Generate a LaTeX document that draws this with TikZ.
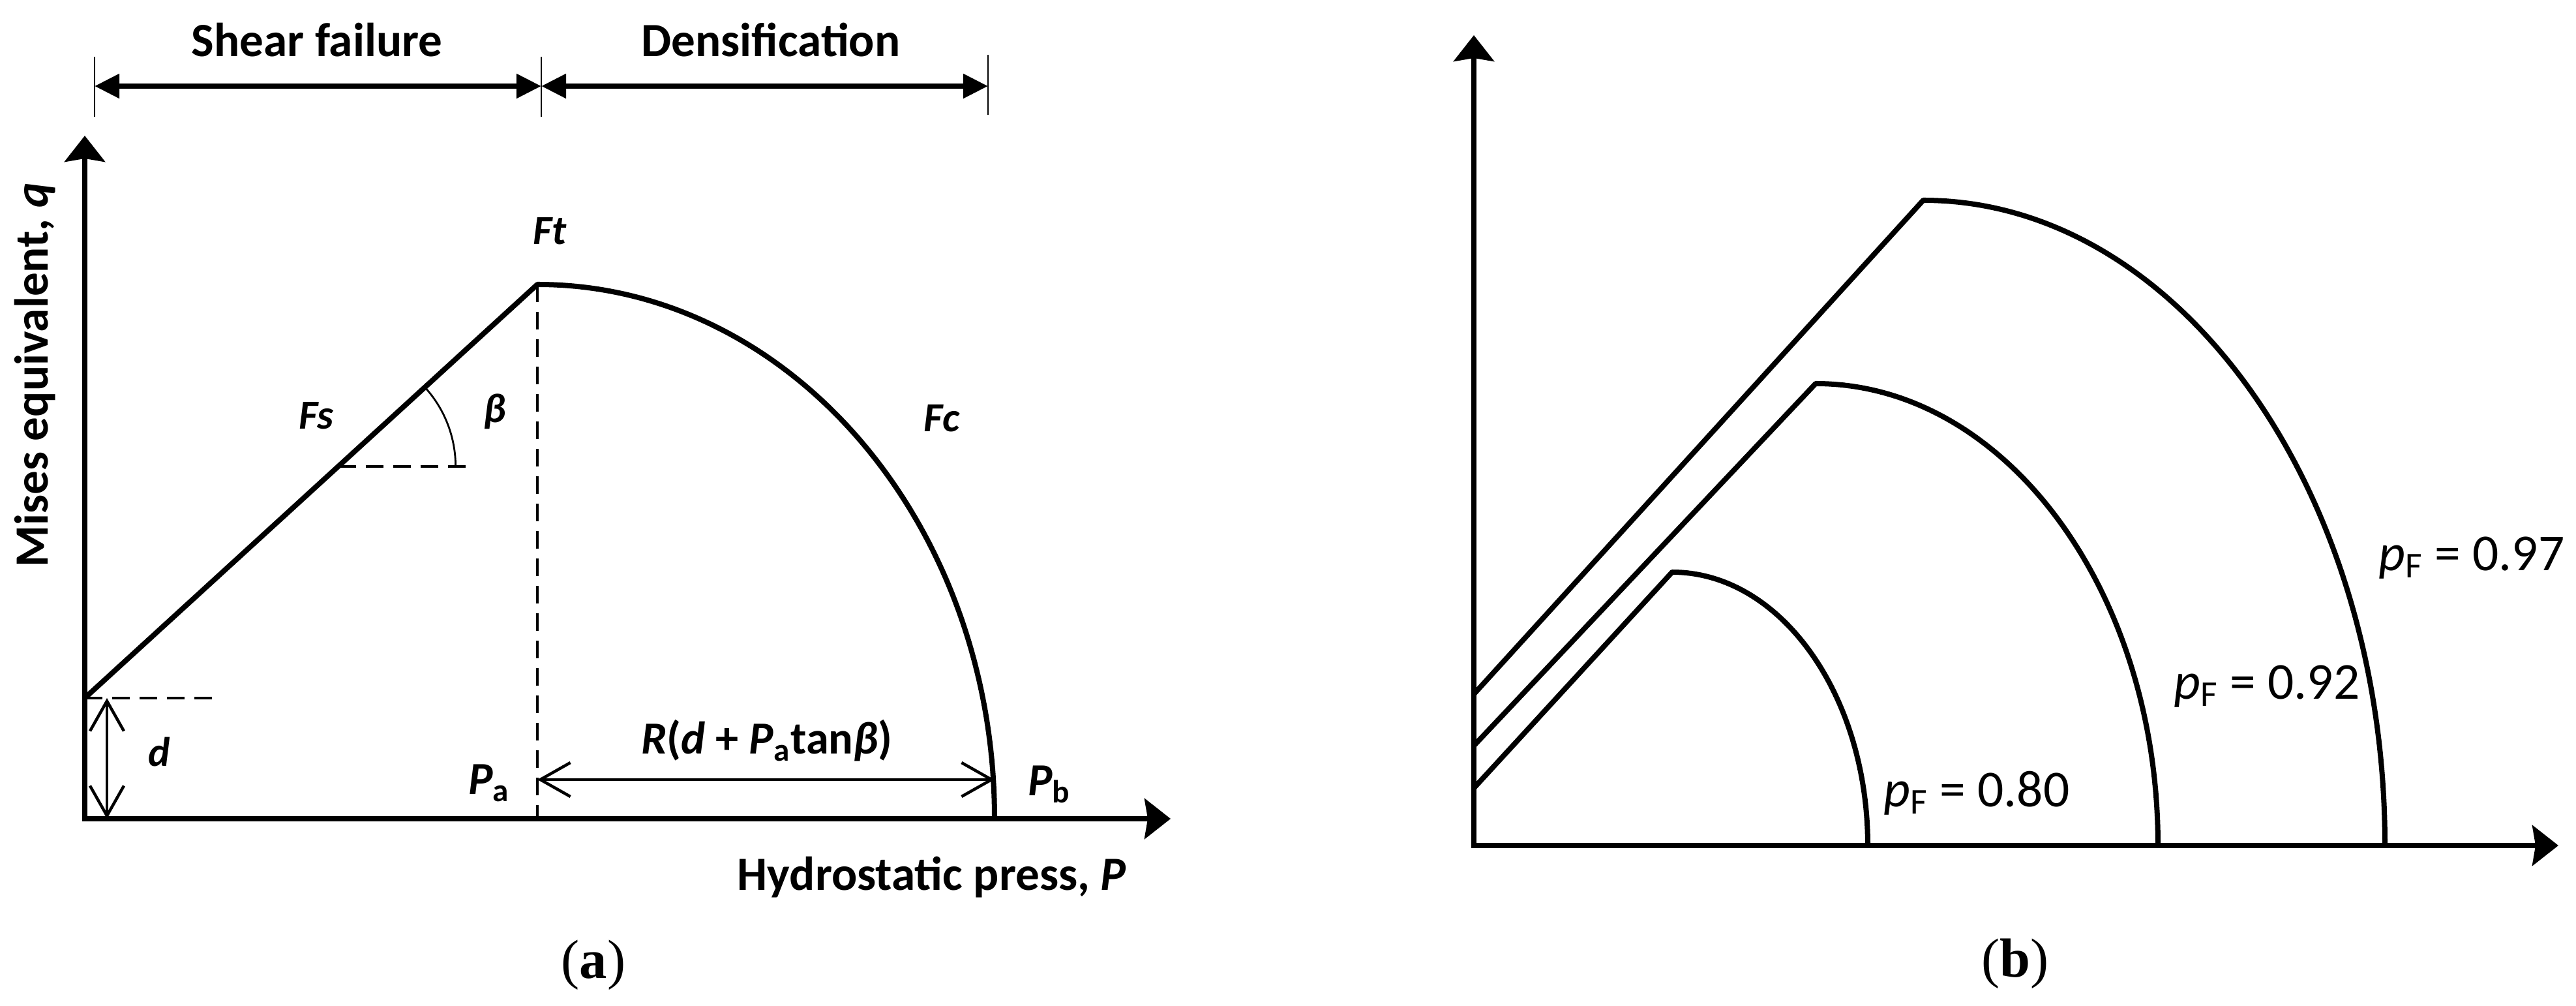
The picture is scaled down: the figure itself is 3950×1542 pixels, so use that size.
\documentclass[tikz,border=0pt]{standalone}
\usepackage{fontspec}
\setmainfont{Carlito}
\newfontfamily\capfont{Liberation Serif}
\usetikzlibrary{arrows.meta}

\begin{document}
\begin{tikzpicture}[x=0.01cm,y=0.01cm,
    axis/.style={line width=0.075cm,{Stealth[length=0.4cm,width=0.62cm,inset=0.05cm]}-{Stealth[length=0.4cm,width=0.62cm,inset=0.05cm]}},
    curve/.style={line width=0.08cm,line join=round},
    dashline/.style={line width=0.045cm,dash pattern=on 0.27cm off 0.15cm},
    thinline/.style={line width=0.028cm},
    spanarrow/.style={line width=0.08cm,{Triangle[length=0.38cm,width=0.36cm]}-{Triangle[length=0.38cm,width=0.36cm]}},
    dimarrow/.style={line width=0.045cm,{Straight Barb[length=0.46cm,width=0.52cm]}-{Straight Barb[length=0.46cm,width=0.52cm]}},
    ttl/.style={font=\bfseries\fontsize{20.8}{25}\selectfont,inner sep=0pt},
    lbl/.style={font=\bfseries\itshape\fontsize{18}{22}\selectfont,inner sep=0pt,anchor=base},
    plbl/.style={font=\bfseries\fontsize{20}{24}\selectfont,inner sep=0pt,anchor=base},
    rholbl/.style={font=\fontsize{22.6}{27}\selectfont,inner sep=0pt,anchor=base west},
    panel/.style={font=\capfont\fontsize{24}{28}\selectfont,inner sep=0pt,anchor=base}]

\useasboundingbox (0,0) rectangle (3950,1542);

% (a) cap model
\coordinate (oa) at (130,287);
\coordinate (ya) at (130,1334);
\coordinate (xa) at (1795,287);
\coordinate (d0) at (130,472);
\coordinate (ftp) at (824,1106);
\coordinate (pap) at (824,287);
\coordinate (pbp) at (1525,287);
\draw[axis] (ya) -- (oa) -- (xa);
\draw[curve] (d0) -- (ftp) arc[start angle=90,end angle=0,x radius=701,y radius=819];
\draw[dashline] (ftp) -- (pap);

% angle beta
\coordinate (bt) at (518.6,827);
\coordinate (btend) at (725,827);
\draw[dashline] (bt) -- (btend);
\draw[thinline] (bt) ++(0:180) arc[start angle=0,end angle=42.4,radius=180];

% cohesion d
\coordinate (dend) at (333,472);
\coordinate (dtop) at (164,472);
\coordinate (dbot) at (164,287);
\draw[dashline] (d0) -- (dend);
\draw[dimarrow] (dtop) -- (dbot);

% cap radius
\coordinate (rl) at (824,347);
\coordinate (rr) at (1525,347);
\draw[dimarrow] (rl) -- (rr);

% region brackets
\coordinate (k1t) at (145,1455);
\coordinate (k1b) at (145,1363);
\coordinate (k2t) at (830,1455);
\coordinate (k2b) at (830,1363);
\coordinate (k3t) at (1515,1458);
\coordinate (k3b) at (1515,1366);
\coordinate (k1) at (145,1410);
\coordinate (k2) at (830,1410);
\coordinate (k3) at (1515,1410);
\draw[thinline] (k1t) -- (k1b) (k2t) -- (k2b) (k3t) -- (k3b);
\draw[spanarrow] (k1) -- (k2);
\draw[spanarrow] (k2) -- (k3);

\node[ttl,anchor=base] (shear) at (486,1455) {Shear failure};
\node[ttl,anchor=base] (dens) at (1182,1455) {Densification};
\node[ttl,anchor=base west] (xlab) at (1130,177) {Hydrostatic press, \textit{P}};
\node[ttl,rotate=90,anchor=base] (ylab) at (73,967) {Mises equivalent, \textit{q}};

\node[lbl] (ft) at (843,1167) {Ft};
\node[lbl] (fs) at (485,884) {Fs};
\node[lbl] (fc) at (1444,880) {Fc};
\node[lbl] (beta) at (759,894) {β};
\node[lbl] (dl) at (244,367) {d};
\node[plbl] (pa) at (750,324) {\textit{P}\textsubscript{a}};
\node[plbl] (pb) at (1609,322) {\textit{P}\textsubscript{b}};
\node[plbl] (rad) at (1176,386) {\textit{R}(\textit{d} + \textit{P}\textsubscript{a}tan\textit{β})};

\node[panel] (pana) at (910,42) {(\textbf{a})};

% (b) caps for three densities
\coordinate (ob) at (2260,246);
\coordinate (yb) at (2260,1488);
\coordinate (xb) at (3923,246);
\draw[axis] (yb) -- (ob) -- (xb);

\coordinate (s97) at (2260,478);
\coordinate (t97) at (2949,1235);
\coordinate (s92) at (2260,399);
\coordinate (t92) at (2784,954);
\coordinate (s80) at (2260,334);
\coordinate (t80) at (2564,665);
\draw[curve] (s97) -- (t97) arc[start angle=90,end angle=0,x radius=708,y radius=989];
\draw[curve] (s92) -- (t92) arc[start angle=90,end angle=0,x radius=525,y radius=708];
\draw[curve] (s80) -- (t80) arc[start angle=90,end angle=0,x radius=300,y radius=419];

\node[rholbl] (r97) at (3647,667) {\textit{p}\textsubscript{F} = 0.97};
\node[rholbl] (r92) at (3333,470) {\textit{p}\textsubscript{F} = 0.92};
\node[rholbl] (r80) at (2888,305) {\textit{p}\textsubscript{F} = 0.80};

\node[panel] (panb) at (3090,44) {(\textbf{b})};
\end{tikzpicture}
\end{document}
